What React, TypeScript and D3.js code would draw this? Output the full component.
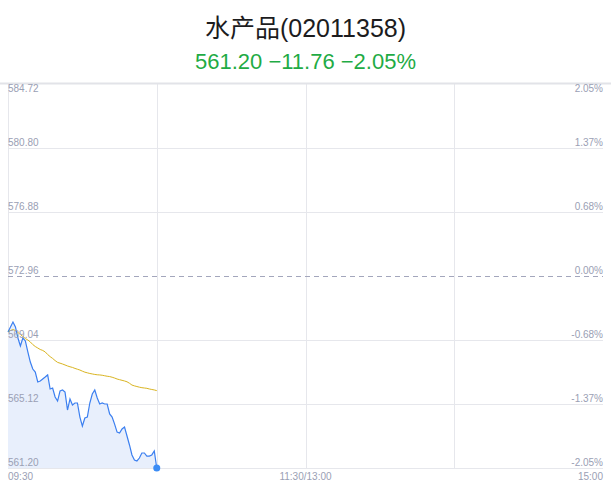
import * as d3 from "d3";
import { useEffect, useRef } from "react";

// intraday minute data, 09:30 – 10:30
const prevClose = 572.96;
const leftTicks = [584.72, 580.8, 576.88, 572.96, 569.04, 565.12, 561.2];
const rightTicks = ["2.05%", "1.37%", "0.68%", "0.00%", "-0.68%", "-1.37%", "-2.05%"];
const timeTicks = ["09:30", "11:30/13:00", "15:00"];

const prices = [
  569.53, 569.84, 570.14, 569.84, 569.16, 568.67, 569.16, 568.98, 568.31, 567.69,
  567.26, 567.08, 566.47, 566.53, 566.65, 566.77, 566.9, 566.04, 566.1, 565.55,
  565.3, 565.92, 565.98, 565.85, 564.75, 565.43, 565.06, 565.18, 565.18, 564.32,
  563.77, 564.26, 564.32, 565.18, 565.73, 565.98, 565.49, 565.12, 565.18, 565.12,
  565.12, 564.51, 564.32, 563.89, 563.4, 563.34, 563.59, 563.71, 563.16, 562.61,
  562.0, 561.69, 561.63, 561.81, 562.12, 562.12, 561.93, 561.93, 562.0, 562.24,
  561.2,
];

const avgPrices = [
  569.53, 569.62, 569.68, 569.62, 569.5, 569.38, 569.25, 569.13, 569.04, 568.92,
  568.76, 568.64, 568.55, 568.46, 568.4, 568.31, 568.15, 568.02, 567.91, 567.78,
  567.67, 567.62, 567.57, 567.51, 567.45, 567.4, 567.36, 567.3, 567.25, 567.2,
  567.13, 567.07, 567.03, 566.99, 566.96, 566.93, 566.91, 566.9, 566.88, 566.85,
  566.82, 566.8, 566.76, 566.71, 566.65, 566.61, 566.57, 566.53, 566.48, 566.39,
  566.28, 566.23, 566.19, 566.15, 566.12, 566.1, 566.08, 566.04, 566.01, 565.98,
  565.94,
];

export default function App() {
  const ref = useRef<SVGSVGElement>(null);

  useEffect(() => {
    if (!ref.current) return;
    const width = 611;
    const height = 492;
    const margin = { top: 84, right: 8, bottom: 24, left: 8 };

    const svg = d3.select(ref.current);
    svg.selectAll("*").remove();

    const x = d3
      .scaleLinear()
      .domain([0, 240])
      .range([margin.left, width - margin.right]);
    const y = d3
      .scaleLinear()
      .domain([leftTicks[leftTicks.length - 1], leftTicks[0]])
      .range([height - margin.bottom, margin.top]);

    const font = "'Liberation Sans', Arial, sans-serif";
    const labelColor = "#9aa0b4";

    // title
    svg
      .append("text")
      .attr("x", width / 2)
      .attr("y", 36.5)
      .attr("text-anchor", "middle")
      .style("font-family", "'Liberation Sans', 'Noto Sans CJK SC', sans-serif")
      .style("font-size", "25px")
      .style("fill", "#1c1c1e")
      .text("水产品(02011358)");

    svg
      .append("text")
      .attr("x", width / 2)
      .attr("y", 68.5)
      .attr("text-anchor", "middle")
      .style("font-family", font)
      .style("font-size", "22px")
      .style("fill", "#1fab45")
      .text("561.20 \u221211.76 \u22122.05%");

    // grid
    const grid = svg.append("g");
    leftTicks.forEach((t, i) => {
      if (i === 0 || i === 3) return;
      grid
        .append("line")
        .attr("x1", x(0))
        .attr("x2", x(240))
        .attr("y1", Math.round(y(t)) + 0.5)
        .attr("y2", Math.round(y(t)) + 0.5)
        .attr("stroke", "#e6e7ec")
        .attr("stroke-width", 1);
    });
    [0, 60, 120, 180].forEach((m) => {
      grid
        .append("line")
        .attr("x1", Math.round(x(m)) + 0.5)
        .attr("x2", Math.round(x(m)) + 0.5)
        .attr("y1", y(leftTicks[0]))
        .attr("y2", y(leftTicks[6]))
        .attr("stroke", "#e6e7ec")
        .attr("stroke-width", 1);
    });
    // top border
    grid
      .append("line")
      .attr("x1", 0)
      .attr("x2", width)
      .attr("y1", y(leftTicks[0]) - 0.5)
      .attr("y2", y(leftTicks[0]) - 0.5)
      .attr("stroke", "#e2e3e8")
      .attr("stroke-width", 2);

    // prev close dashed line
    grid
      .append("line")
      .attr("x1", x(0))
      .attr("x2", x(240))
      .attr("y1", Math.round(y(prevClose)) + 0.5)
      .attr("y2", Math.round(y(prevClose)) + 0.5)
      .attr("stroke", "#a3a6bc")
      .attr("stroke-dasharray", "5,4")
      .attr("stroke-width", 1);

    // area + lines
    const area = d3
      .area<number>()
      .x((_, i) => x(i))
      .y0(y(leftTicks[6]))
      .y1((d) => y(d));
    svg
      .append("path")
      .datum(prices)
      .attr("d", area)
      .attr("fill", "#e8effc");

    const line = d3
      .line<number>()
      .x((_, i) => x(i))
      .y((d) => y(d));

    svg
      .append("path")
      .datum(avgPrices)
      .attr("d", line)
      .attr("fill", "none")
      .attr("stroke", "#d9b421")
      .attr("stroke-width", 1);

    svg
      .append("path")
      .datum(prices)
      .attr("d", line)
      .attr("fill", "none")
      .attr("stroke", "#3b7ff0")
      .attr("stroke-width", 1.2);

    const last = prices.length - 1;
    svg
      .append("circle")
      .attr("cx", x(last))
      .attr("cy", y(prices[last]))
      .attr("r", 3.5)
      .attr("fill", "#3b8cf5");

    // axis labels: top one sits under the border, the rest above their lines
    leftTicks.forEach((t, i) => {
      svg
        .append("text")
        .attr("x", x(0))
        .attr("y", i === 0 ? y(t) + 7.5 : y(t) - 2)
        .style("font-family", font)
        .style("font-size", "10px")
        .style("fill", labelColor)
        .text(t.toFixed(2));
    });
    rightTicks.forEach((t, i) => {
      svg
        .append("text")
        .attr("x", x(240))
        .attr("y", i === 0 ? y(leftTicks[i]) + 7.5 : y(leftTicks[i]) - 2)
        .attr("text-anchor", "end")
        .style("font-family", font)
        .style("font-size", "10px")
        .style("fill", labelColor)
        .text(t);
    });

    // time labels
    const timePos = [0, 120, 240];
    const anchors = ["start", "middle", "end"];
    timeTicks.forEach((t, i) => {
      svg
        .append("text")
        .attr("x", x(timePos[i]))
        .attr("y", y(leftTicks[6]) + 12)
        .attr("text-anchor", anchors[i])
        .style("font-family", font)
        .style("font-size", "10px")
        .style("fill", labelColor)
        .text(t);
    });
  }, []);

  return (
    <svg
      ref={ref}
      width={611}
      height={492}
      style={{ position: "absolute", left: 0, top: 0, background: "#fff" }}
    />
  );
}
